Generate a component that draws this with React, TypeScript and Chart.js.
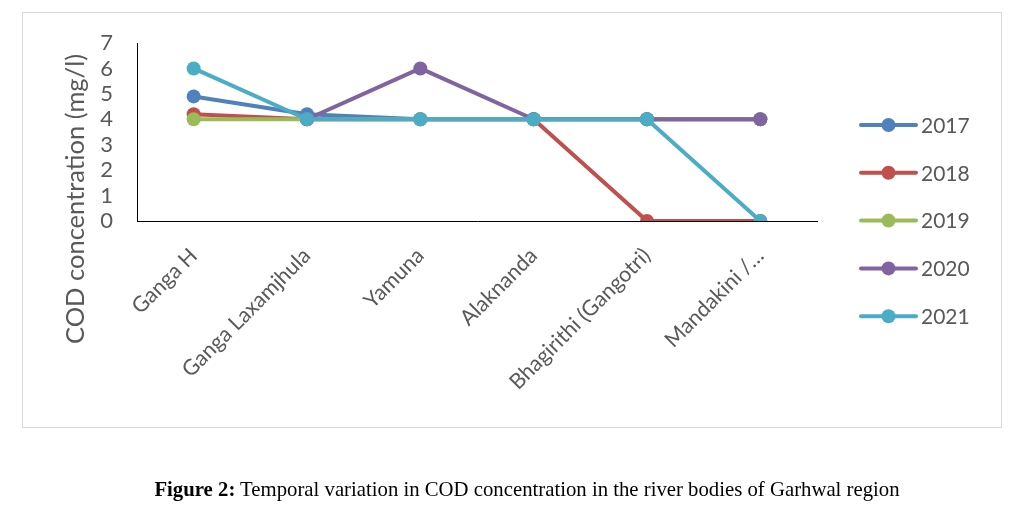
import React, { useEffect, useRef } from "react";
import { Chart, registerables } from "chart.js";
Chart.register(...registerables);

const categories = ["Ganga H", "Ganga Laxamjhula", "Yamuna", "Alaknanda", "Bhagirithi (Gangotri)", "Mandakini /…"];
const seriesNames = ["2017", "2018", "2019", "2020", "2021"];
const values2017 = [4.9, 4.2, 4, 4, 4, 4];
const values2018 = [4.2, 4, 4, 4, 0, 0];
const values2019 = [4, 4, 4, 4, 4, 4];
const values2020 = [null, 4, 6, 4, 4, 4];
const values2021 = [6, 4, 4, 4, 4, 0];
const seriesColors = ["#4F81BD", "#C0504D", "#9BBB59", "#8064A2", "#4BACC6"];
const yTitle = "COD concentration (mg/l)";
const yMin = 0;
const yMax = 7;
const yStep = 1;

const FONT = "Lato, 'Open Sans', sans-serif";

const yTitlePlugin = {
  id: "yTitlePlugin",
  afterDraw(chart: any) {
    const ctx = chart.ctx;
    ctx.save();
    ctx.translate(76, 199);
    ctx.rotate(-Math.PI / 2);
    ctx.font = `25.5px ${FONT}`;
    ctx.fillStyle = "#595959";
    ctx.textAlign = "center";
    ctx.textBaseline = "middle";
    ctx.fillText(yTitle, 0, 0);
    ctx.restore();
  },
};

const legendPlugin = {
  id: "sideLegend",
  afterDraw(chart: any) {
    const ctx = chart.ctx;
    ctx.save();
    chart.data.datasets.forEach((ds: any, i: number) => {
      const y = 125 + i * 47.8;
      ctx.strokeStyle = ds.borderColor;
      ctx.lineWidth = 4;
      ctx.lineCap = "round";
      ctx.beginPath();
      ctx.moveTo(861, y);
      ctx.lineTo(916, y);
      ctx.stroke();
      ctx.fillStyle = ds.borderColor;
      ctx.beginPath();
      ctx.arc(888.5, y, 7, 0, Math.PI * 2);
      ctx.fill();
      ctx.fillStyle = "#595959";
      ctx.font = `21px ${FONT}`;
      ctx.textAlign = "left";
      ctx.textBaseline = "middle";
      ctx.fillText(ds.label, 921, y + 1);
    });
    ctx.restore();
  },
};

export default function App() {
  const ref = useRef<HTMLCanvasElement>(null);
  useEffect(() => {
    document.body.style.margin = "0";
    const all = [values2017, values2018, values2019, values2020, values2021];
    const chart = new Chart(ref.current!, {
      type: "line",
      data: {
        labels: categories,
        datasets: seriesNames.map((name, i) => ({
          label: name,
          data: all[i],
          borderColor: seriesColors[i],
          backgroundColor: seriesColors[i],
          pointBackgroundColor: seriesColors[i],
          pointBorderWidth: 0,
          pointRadius: 7,
          borderWidth: 4,
          borderCapStyle: "round",
          borderJoinStyle: "round",
          tension: 0,
          spanGaps: false,
          order: seriesNames.length - i,
        })) as any,
      },
      options: {
        responsive: false,
        animation: false,
        devicePixelRatio: 1,
        layout: { padding: { left: 0, top: 43, right: 201, bottom: 0 } },
        scales: {
          x: {
            offset: true,
            grid: { display: false },
            border: { display: true, color: "#000", width: 1 },
            ticks: {
              minRotation: 45,
              maxRotation: 45,
              autoSkip: false,
              color: "#595959",
              font: { family: FONT, size: 21.5 },
              padding: 14,
            },
            afterFit: (s: any) => {
              s.height = 290;
            },
          },
          y: {
            min: yMin,
            max: yMax,
            grid: { display: false },
            border: { display: true, color: "#000", width: 1 },
            ticks: {
              stepSize: yStep,
              autoSkip: false,
              color: "#595959",
              font: { family: FONT, size: 22 },
              padding: 16,
            },
            afterFit: (s: any) => {
              s.width = 137;
            },
          },
        },
        plugins: {
          legend: { display: false },
          tooltip: { enabled: false },
        },
      },
      plugins: [yTitlePlugin, legendPlugin],
    });
    return () => chart.destroy();
  }, []);

  return (
    <div style={{ position: "relative", width: 1018, height: 511, background: "#fff", overflow: "hidden" }}>
      <div
        style={{
          position: "absolute",
          left: 22,
          top: 12,
          width: 980,
          height: 416,
          border: "1px solid #d9d9d9",
          boxSizing: "border-box",
        }}
      />
      <canvas ref={ref} width={1018} height={511} style={{ position: "absolute", left: 0, top: 0 }} />
      <div
        style={{
          position: "absolute",
          left: 37,
          top: 477,
          width: 980,
          textAlign: "center",
          fontFamily: "'Liberation Serif', 'Times New Roman', serif",
          fontSize: 20.75,
          lineHeight: "24px",
          color: "#000",
          whiteSpace: "nowrap",
        }}
      >
        <b>Figure 2:</b> Temporal variation in COD concentration in the river bodies of Garhwal region
      </div>
    </div>
  );
}
